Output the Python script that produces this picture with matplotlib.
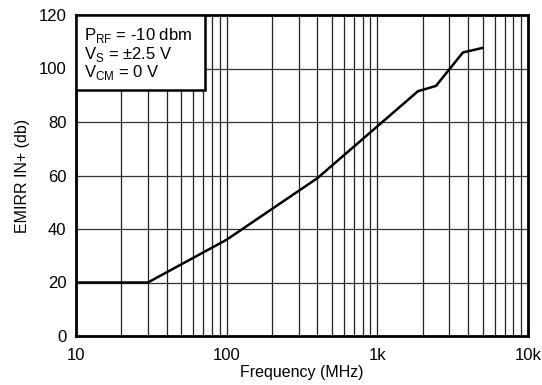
import matplotlib
matplotlib.use("Agg")
import matplotlib.pyplot as plt
from matplotlib.ticker import FixedLocator, NullFormatter

plt.rcParams["font.family"] = ["Liberation Sans", "DejaVu Sans"]

# curve
freq_mhz = [10, 30, 100, 400, 1860, 2450, 3700, 5000]
emirr_db = [20, 20, 36, 59, 91.5, 93.5, 106, 107.7]

x_ticks = [10, 100, 1000, 10000]
x_tick_labels = ["10", "100", "1k", "10k"]
y_ticks = [0, 20, 40, 60, 80, 100, 120]

fig = plt.figure(figsize=(5.42, 3.85), dpi=100)
ax = fig.add_axes([76 / 542, 1 - 336 / 385, 452 / 542, 321 / 385])

ax.plot(freq_mhz, emirr_db, color="black", lw=1.8, zorder=3)

ax.set_xscale("log")
ax.set_xlim(10, 10000)
ax.set_ylim(0, 120)
ax.xaxis.set_major_locator(FixedLocator(x_ticks))
ax.set_xticklabels(x_tick_labels)
minors = [m * d for d in (10, 100, 1000) for m in range(2, 10)]
ax.xaxis.set_minor_locator(FixedLocator(minors))
ax.xaxis.set_minor_formatter(NullFormatter())
ax.set_yticks(y_ticks)

ax.grid(True, which="both", axis="x", color="#222222", lw=0.9)
ax.grid(True, which="major", axis="y", color="#333333", lw=0.9)
ax.tick_params(which="both", length=0, labelsize=12)
ax.tick_params(axis="x", pad=9)
ax.tick_params(axis="y", pad=7)
for s in ax.spines.values():
    s.set_linewidth(2)

ax.set_xlabel("Frequency (MHz)", fontsize=11.5, labelpad=1)
ax.set_ylabel("EMIRR IN+ (db)", fontsize=11.5, labelpad=6)

ax.text(0.018, 0.965,
        "P$_{\\mathregular{RF}}$ = -10 dbm\nV$_{\\mathregular{S}}$ = \u00b12.5 V\nV$_{\\mathregular{CM}}$ = 0 V",
        transform=ax.transAxes, ha="left", va="top", fontsize=12,
        linespacing=0.95, zorder=5)
# white box behind the annotation
box = plt.Rectangle((0, 0.766), 0.285, 0.234, transform=ax.transAxes,
                    fc="white", ec="black", lw=1.8, zorder=4)
ax.add_patch(box)

fig.savefig("out.png", dpi=100)
